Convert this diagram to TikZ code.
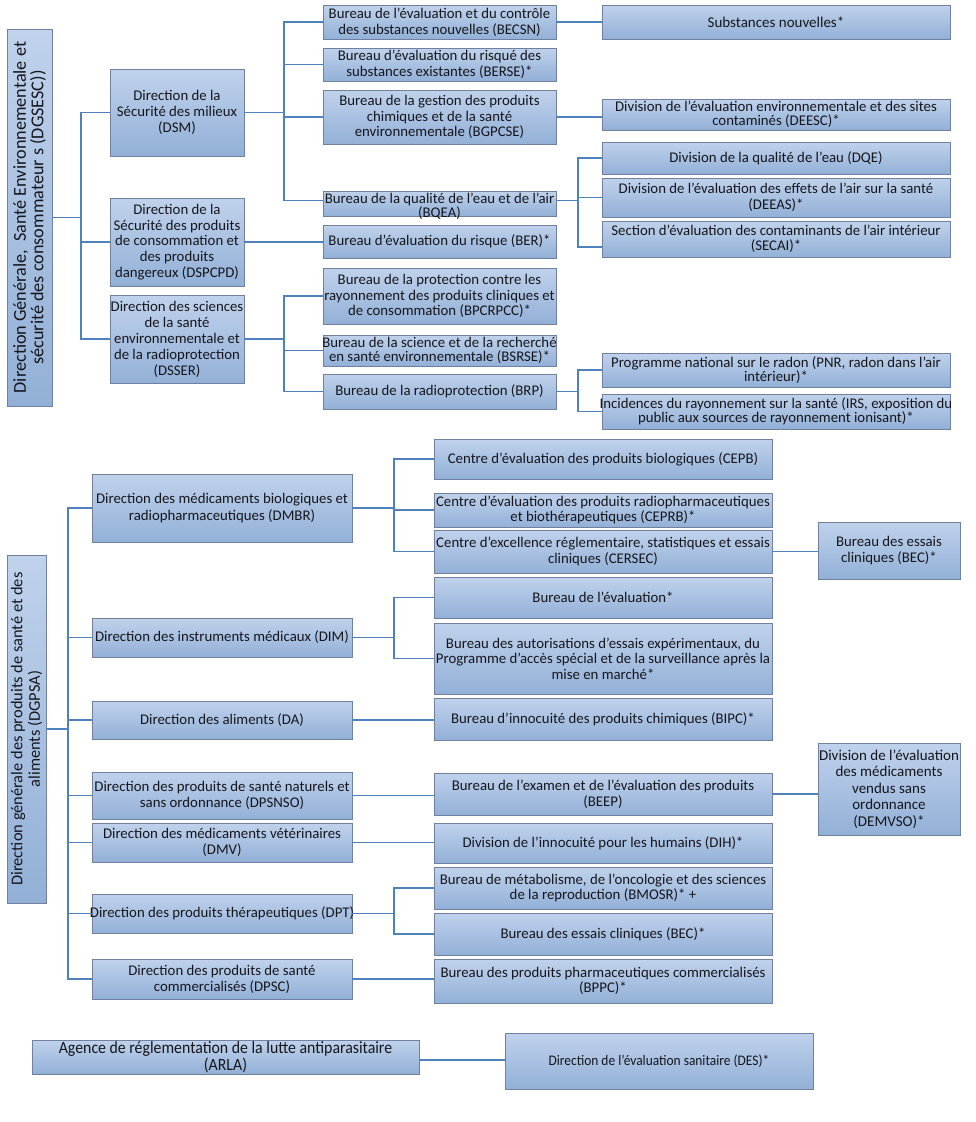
\documentclass[tikz,border=0pt]{standalone}
\usepackage{fontspec}
\setmainfont{Carlito}
\newfontfamily\narrowfont{Carlito}[FakeStretch=0.92]
\usetikzlibrary{calc}
\definecolor{boxtop}{RGB}{192,210,236}
\definecolor{boxbot}{RGB}{146,176,215}
\definecolor{boxline}{RGB}{112,128,158}
\definecolor{linecol}{RGB}{79,129,189}
\definecolor{textcol}{RGB}{22,22,28}
\tikzset{
  orgshape/.style={rectangle, top color=boxtop, bottom color=boxbot, draw=boxline, line width=0.9pt, inner sep=0pt},
  orgtext/.style={align=center, inner sep=0pt, text=textcol, font=\fontsize{14.8}{15.5}\selectfont},
  tight/.style={font=\fontsize{14.8}{14.2}\selectfont},
  loose/.style={font=\fontsize{14.8}{16.5}\selectfont},
  conn/.style={draw=linecol, line width=1.8pt}
}
\newcommand{\orgbox}[7][]{%
  \node[orgshape, minimum width={(#5-#3)*1pt}, minimum height={(#6-#4)*1pt}] (#2) at ({(#3+#5)/2},{(#4+#6)/2}) {};
  \node[orgtext,#1] at (#2.center) {#7};}
\begin{document}
\begin{tikzpicture}[x=1pt,y=-1pt]
\useasboundingbox[fill=white] (0,0) rectangle (975,1122);
% ---------- top section ----------
\node[orgshape, minimum width=45pt, minimum height=377pt] (G1) at (29.5,217.5) {};
\node[orgtext, rotate=90, font=\fontsize{18.2}{17.5}\selectfont] at (G1.center) {Direction Générale,\ \ Santé Environnementale et\\sécurité des consommateur s (DGSESC))};
\orgbox[font=\fontsize{14.8}{16}\selectfont]{DSM}{110}{69}{244}{156}{Direction de la\\Sécurité des milieux\\(DSM)}
\orgbox[font=\fontsize{14.8}{15.8}\selectfont]{DSPCPD}{110}{198}{244}{286}{Direction de la\\Sécurité des produits\\de consommation et\\des produits\\dangereux (DSPCPD)}
\orgbox[font=\fontsize{14.8}{16}\selectfont]{DSSER}{110}{295}{244}{383}{Direction des sciences\\de la santé\\environnementale et\\de la radioprotection\\(DSSER)}
\orgbox[font=\fontsize{14.8}{16}\selectfont]{BECSN}{323}{5}{556}{39}{Bureau de l’évaluation et du contrôle\\des substances nouvelles (BECSN)}
\orgbox{BERSE}{323}{48}{556}{81}{Bureau d’évaluation du risqué des\\substances existantes (BERSE)*}
\orgbox{BGPCSE}{323}{90}{556}{144}{Bureau de la gestion des produits\\chimiques et de la santé\\environnementale (BGPCSE)}
\orgbox[tight,yshift=-2.5pt]{BQEA}{323}{191}{556}{216}{Bureau de la qualité de l’eau et de l’air\\(BQEA)}
\orgbox{BER}{323}{225}{556}{258}{Bureau d’évaluation du risque (BER)*}
\orgbox{BPCRPCC}{323}{268}{556}{324}{Bureau de la protection contre les\\rayonnement des produits cliniques et\\de consommation (BPCRPCC)*}
\orgbox[tight]{BSRSE}{323}{335}{556}{366}{Bureau de la science et de la recherché\\en santé environnementale (BSRSE)*}
\orgbox{BRP}{323}{374}{556}{409}{Bureau de la radioprotection (BRP)}
\orgbox[font=\fontsize{15}{15.5}\selectfont]{SN}{602}{5}{950}{39}{Substances nouvelles*}
\orgbox[tight]{DEESC}{602}{99}{950}{130}{Division de l’évaluation environnementale et des sites\\contaminés (DEESC)*}
\orgbox{DQE}{602}{142}{950}{174}{Division de la qualité de l’eau (DQE)}
\orgbox[loose]{DEEAS}{602}{178}{950}{217}{Division de l’évaluation des effets de l’air sur la santé\\(DEEAS)*}
\orgbox{SECAI}{602}{221}{950}{257}{Section d’évaluation des contaminants de l’air intérieur\\(SECAI)*}
\orgbox[tight]{PNR}{602}{353}{950}{387}{Programme national sur le radon (PNR, radon dans l’air\\intérieur)*}
\orgbox[tight]{IRS}{602}{394}{950}{429}{Incidences du rayonnement sur la santé (IRS, exposition du\\public aux sources de rayonnement ionisant)*}
% ---------- bottom section ----------
\node[orgshape, minimum width=39pt, minimum height=348pt] (G2) at (26.5,729) {};
\node[orgtext, rotate=90, font=\fontsize{16.4}{17.5}\selectfont] at (G2.center) {Direction générale des produits de santé et des\\aliments (DGPSA)};
\orgbox[loose]{DMBR}{92}{474}{352}{542}{Direction des médicaments biologiques et\\radiopharmaceutiques (DMBR)}
\orgbox{DIM}{92}{618}{352}{657}{Direction des instruments médicaux (DIM)}
\orgbox{DA}{92}{701}{352}{739}{Direction des aliments (DA)}
\orgbox[font=\fontsize{14.8}{15.8}\selectfont]{DPSNSO}{92}{772}{352}{819}{Direction des produits de santé naturels et\\sans ordonnance (DPSNSO)}
\orgbox[loose]{DMV}{92}{823}{352}{862}{Direction des médicaments vétérinaires\\(DMV)}
\orgbox{DPT}{92}{894}{352}{933}{Direction des produits thérapeutiques (DPT)}
\orgbox[font=\fontsize{14.8}{15.8}\selectfont]{DPSC}{92}{959}{352}{999}{Direction des produits de santé\\commercialisés (DPSC)}
\orgbox{CEPB}{434}{439}{772}{479}{Centre d’évaluation des produits biologiques (CEPB)}
\orgbox[tight]{CEPRB}{434}{493}{772}{527}{Centre d’évaluation des produits radiopharmaceutiques\\et biothérapeutiques (CEPRB)*}
\orgbox{CERSEC}{434}{530}{772}{573}{Centre d’excellence réglementaire, statistiques et essais\\cliniques (CERSEC)}
\orgbox{BEVAL}{434}{577}{772}{618}{Bureau de l’évaluation*}
\orgbox{BAEE}{434}{623}{772}{694}{Bureau des autorisations d’essais expérimentaux, du\\Programme d’accès spécial et de la surveillance après la\\mise en marché*}
\orgbox{BIPC}{434}{698}{772}{740}{Bureau d’innocuité des produits chimiques (BIPC)*}
\orgbox[font=\fontsize{14.8}{15.8}\selectfont]{BEEP}{434}{773}{772}{815}{Bureau de l’examen et de l’évaluation des produits\\(BEEP)}
\orgbox{DIH}{434}{823}{772}{863}{Division de l’innocuité pour les humains (DIH)*}
\orgbox{BMOSR}{434}{867}{772}{909}{Bureau de métabolisme, de l’oncologie et des sciences\\de la reproduction (BMOSR)* +}
\orgbox{BECb}{434}{913}{772}{955}{Bureau des essais cliniques (BEC)*}
\orgbox{BPPC}{434}{959}{772}{1003}{Bureau des produits pharmaceutiques commercialisés\\(BPPC)*}
\orgbox[font=\fontsize{14.8}{16}\selectfont]{BECa}{818}{522}{960}{579}{Bureau des essais\\cliniques (BEC)*}
\orgbox[font=\fontsize{15}{16.5}\selectfont]{DEMVSO}{818}{743}{960}{835}{Division de l’évaluation\\des médicaments\\vendus sans\\ordonnance\\(DEMVSO)*}
% ---------- ARLA ----------
\orgbox[font=\narrowfont\fontsize{17.2}{17}\selectfont]{ARLA}{32}{1040}{419}{1074}{Agence de réglementation de la lutte antiparasitaire\\(ARLA)}
\orgbox[font=\narrowfont\fontsize{14.6}{15}\selectfont]{DES}{505}{1033}{813}{1089}{Direction de l’évaluation sanitaire (DES)*}
% ---------- connectors ----------
\coordinate (tA) at (81,0);
\coordinate (tB) at (284,0);
\coordinate (tC) at (578,0);
\coordinate (tD) at (68,0);
\coordinate (tE) at (394,0);
\draw[conn] (G1.east) -- (G1.east -| tA);
\draw[conn] (DSM.west) -| (tA |- DSSER.west) -- (DSSER.west);
\draw[conn] (tA |- DSPCPD.west) -- (DSPCPD.west);
\draw[conn] (DSM.east) -- (DSM.east -| tB);
\draw[conn] (BECSN.west) -| ($(tB |- BQEA.west)+(0,-3)$) -- ($(BQEA.west)+(0,-3)$);
\draw[conn] (tB |- BERSE.west) -- (BERSE.west);
\draw[conn] (tB |- BGPCSE.west) -- (BGPCSE.west);
\draw[conn] (DSPCPD.east) -- (DSPCPD.east -| BER.west);
\draw[conn] (DSSER.east) -- (DSSER.east -| tB);
\draw[conn] (BPCRPCC.west) -| (tB |- BRP.west) -- (BRP.west);
\draw[conn] (tB |- BSRSE.west) -- (BSRSE.west);
\draw[conn] (BECSN.east) -- (BECSN.east -| SN.west);
\draw[conn] (BGPCSE.east) -- (BGPCSE.east -| DEESC.west);
\draw[conn] ($(BQEA.east)+(0,-3)$) -- ($(BQEA.east -| tC)+(0,-3)$);
\draw[conn] (DQE.west) -| ($(tC |- SECAI.west)+(0,8)$) -- ($(SECAI.west)+(0,8)$);
\draw[conn] (tC |- DEEAS.west) -- (DEEAS.west);
\draw[conn] (BRP.east) -- (BRP.east -| tC);
\draw[conn] (PNR.west) -| (tC |- IRS.west) -- (IRS.west);
\draw[conn] (G2.east) -- (G2.east -| tD);
\draw[conn] (DMBR.west) -| (tD |- DPSC.west) -- (DPSC.west);
\foreach \n in {DIM,DA,DPSNSO,DMV,DPT} \draw[conn] (tD |- \n.west) -- (\n.west);
\draw[conn] (DMBR.east) -- (DMBR.east -| tE);
\draw[conn] (CEPB.west) -| (tE |- CERSEC.west) -- (CERSEC.west);
\draw[conn] (tE |- CEPRB.west) -- (CEPRB.west);
\draw[conn] (DIM.east) -- (DIM.east -| tE);
\draw[conn] (BEVAL.west) -| (tE |- BAEE.west) -- (BAEE.west);
\draw[conn] (DA.east) -- (DA.east -| BIPC.west);
\draw[conn] (DPSNSO.east) -- (DPSNSO.east -| BEEP.west);
\draw[conn] (DMV.east) -- (DMV.east -| DIH.west);
\draw[conn] (DPT.east) -- (DPT.east -| tE);
\draw[conn] (BMOSR.west) -| (tE |- BECb.west) -- (BECb.west);
\draw[conn] (DPSC.east) -- (DPSC.east -| BPPC.west);
\draw[conn] (CERSEC.east) -- (CERSEC.east -| BECa.west);
\draw[conn] (BEEP.east) -- (BEEP.east -| DEMVSO.west);
\draw[conn] ($(ARLA.east)+(0,3)$) -- ($(ARLA.east -| DES.west)+(0,3)$);
\end{tikzpicture}
\end{document}
